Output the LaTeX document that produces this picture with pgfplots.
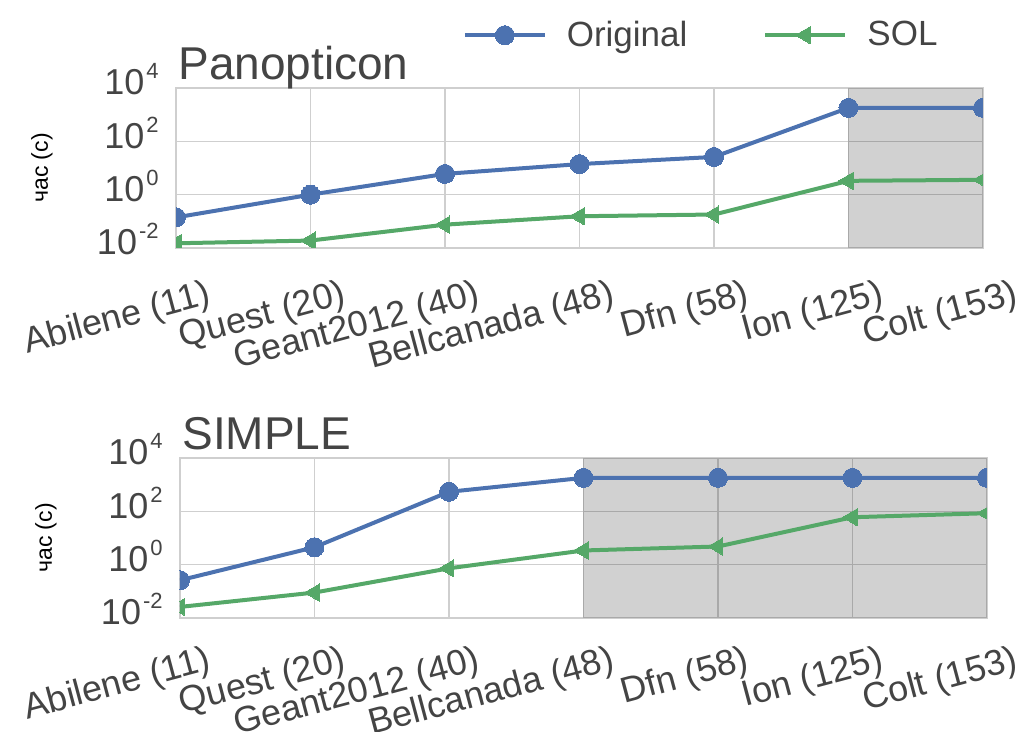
\documentclass[border=0pt]{standalone}
\usepackage{pgfplots}
\pgfplotsset{compat=1.18}
\usepackage{fontspec}
\setmainfont{Liberation Sans}
\definecolor{cblue}{HTML}{4C72B0}
\definecolor{cgreen}{HTML}{55A868}
\definecolor{txt}{HTML}{444444}
\definecolor{gridc}{HTML}{CFCFCF}
\newcommand{\E}[1]{10\kern1pt\raisebox{8pt}{\fontsize{11}{11}\selectfont #1}}
\begin{document}
\begin{tikzpicture}
\useasboundingbox (0,0) rectangle (509pt,366pt);
\begin{axis}[at={(88pt,242pt)}, anchor=south west, title={Panopticon},
  width=403.5pt, height=80pt, scale only axis,
  xmin=0, xmax=6, ymode=log, ymin=1e-2, ymax=1e4,
  xtick={0,...,6},
  xticklabels={Abilene (11),Quest (20),Geant2012 (40),Bellcanada (48),Dfn (58),Ion (125),Colt (153)},
  ytick={1e-2,1,1e2,1e4},
  yticklabels={\E{-2},\E{0},\E{2},\E{4}},
  grid=major, major grid style={gridc, line width=0.8pt},
  axis line style={gridc, line width=1pt},
  major tick length=0pt,
  tick label style={font=\fontsize{18}{18}\selectfont, text=txt, inner sep=0pt},
  yticklabel style={anchor=base east, xshift=-8.5pt, yshift=-3.5pt},
  xticklabel style={xshift=15pt, yshift=-15pt, rotate=15, anchor=north east},
  ylabel={час (с)},
  ylabel style={at={(axis description cs:-0.166,0.5)}, anchor=center, font=\fontsize{11.5}{11.5}\selectfont},
  title style={at={(0,1)}, anchor=base west, inner sep=0pt, yshift=-2pt, xshift=1pt, font=\fontsize{23}{23}\selectfont, text=txt},
  clip marker paths=true,
  legend columns=2,
  legend style={draw=none, fill=none, at={(0.652,1.33)}, anchor=center,
    font=\fontsize{17.5}{17.5}\selectfont, text=txt,
    /tikz/every odd column/.append style={column sep=8pt},
    /tikz/every even column/.append style={column sep=36pt}},
  legend image code/.code={\draw[mark repeat=2,mark phase=2] plot coordinates {(0pt,0pt) (20pt,0pt) (40pt,0pt)};},
]
\fill[black, opacity=0.18] (axis cs:5,1e-2) rectangle (axis cs:6,1e4);
\addplot[cblue, line width=2pt, mark=*, mark size=4.75pt, mark options={solid, fill=cblue, draw=cblue, line width=0pt}] coordinates {(0,0.14) (1,1.0) (2,6.0) (3,14) (4,26) (5,1800) (6,1800)};
\addlegendentry{Original}
\addplot[cgreen, line width=2pt, mark=triangle*, mark size=5pt, mark options={solid, fill=cgreen, draw=cgreen, line width=0pt, rotate=90}] coordinates {(0,0.015) (1,0.019) (2,0.075) (3,0.155) (4,0.18) (5,3.3) (6,3.6)};
\addlegendentry{SOL}
\end{axis}
\begin{axis}[at={(90pt,57pt)}, anchor=south west, title={SIMPLE},
  width=403.5pt, height=80pt, scale only axis,
  xmin=0, xmax=6, ymode=log, ymin=1e-2, ymax=1e4,
  xtick={0,...,6},
  xticklabels={Abilene (11),Quest (20),Geant2012 (40),Bellcanada (48),Dfn (58),Ion (125),Colt (153)},
  ytick={1e-2,1,1e2,1e4},
  yticklabels={\E{-2},\E{0},\E{2},\E{4}},
  grid=major, major grid style={gridc, line width=0.8pt},
  axis line style={gridc, line width=1pt},
  major tick length=0pt,
  tick label style={font=\fontsize{18}{18}\selectfont, text=txt, inner sep=0pt},
  yticklabel style={anchor=base east, xshift=-8.5pt, yshift=-3.5pt},
  xticklabel style={xshift=13pt, yshift=-13pt, rotate=15, anchor=north east},
  ylabel={час (с)},
  ylabel style={at={(axis description cs:-0.166,0.5)}, anchor=center, font=\fontsize{11.5}{11.5}\selectfont},
  title style={at={(0,1)}, anchor=base west, inner sep=0pt, yshift=-2pt, xshift=1pt, font=\fontsize{23}{23}\selectfont, text=txt},
  clip marker paths=true,
]
\fill[black, opacity=0.18] (axis cs:3,1e-2) rectangle (axis cs:6,1e4);
\addplot[cblue, line width=2pt, mark=*, mark size=4.75pt, mark options={solid, fill=cblue, draw=cblue, line width=0pt}] coordinates {(0,0.26) (1,4.5) (2,540) (3,1800) (4,1800) (5,1800) (6,1800)};
\addplot[cgreen, line width=2pt, mark=triangle*, mark size=5pt, mark options={solid, fill=cgreen, draw=cgreen, line width=0pt, rotate=90}] coordinates {(0,0.026) (1,0.09) (2,0.73) (3,3.4) (4,4.8) (5,60) (6,85)};
\end{axis}
\end{tikzpicture}
\end{document}
